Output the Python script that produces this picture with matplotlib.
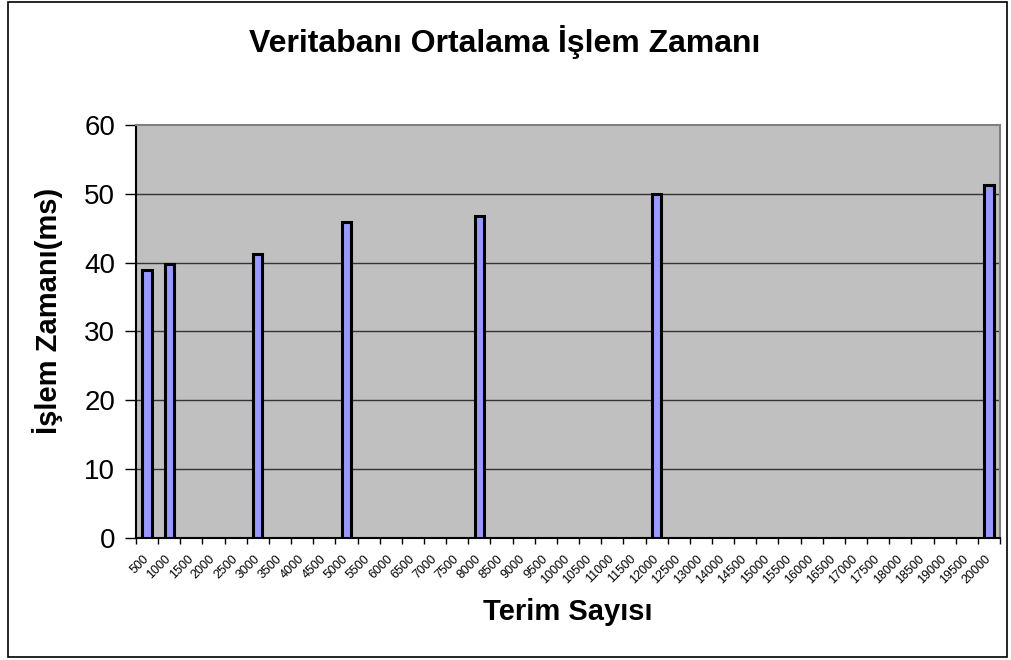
import matplotlib
matplotlib.use("Agg")
import matplotlib.pyplot as plt
from matplotlib.patches import Rectangle
import numpy as np

plt.rcParams['font.family'] = ['Liberation Sans', 'DejaVu Sans']

categories = ["500", "1000", "1500", "2000", "2500", "3000", "3500", "4000", "4500",
              "5000", "5500", "6000", "6500", "7000", "7500", "8000", "8500", "9000",
              "9500", "10000", "10500", "11000", "11500", "12000", "12500", "13000",
              "14000", "14500", "15000", "15500", "16000", "16500", "17000", "17500",
              "18000", "18500", "19000", "19500", "20000"]
measured = {"500": 38.9, "1000": 39.8, "3000": 41.2, "5000": 45.9,
            "8000": 46.7, "12000": 50.0, "20000": 51.3}
values = [measured.get(c, 0) for c in categories]

title = "Veritabanı Ortalama İşlem Zamanı"
ylabel = "İşlem Zamanı(ms)"
xlabel = "Terim Sayısı"
yticks = [0, 10, 20, 30, 40, 50, 60]

fig = plt.figure(figsize=(10.12, 6.6), dpi=100)
fig.patch.set_facecolor('white')
fig.add_artist(Rectangle((8/1012, 3/660), 999/1012, 655/660, transform=fig.transFigure,
                         fill=False, edgecolor='black', linewidth=1.2))

ax = fig.add_axes([136/1012, (660-537.7)/660, 864/1012, (537.7-125)/660])
ax.set_facecolor('#C0C0C0')

x = np.arange(len(categories))
mask = [v > 0 for v in values]
ax.bar(x[mask], np.array(values)[mask], width=0.42, color='#9999FF',
       edgecolor='black', linewidth=2.2, zorder=3)

ax.set_xlim(-0.5, len(categories) - 0.5)
ax.set_ylim(0, 60)
ax.set_yticks(yticks)
ax.set_yticklabels([str(t) for t in yticks], fontsize=20)
for t in yticks[1:-1]:
    ax.axhline(t, color='#333333', linewidth=1.0, zorder=1)

ax.set_xticks(np.arange(len(categories) + 1) - 0.5)
ax.set_xticklabels([])
ax.set_xticks(x - 0.2, minor=True)
ax.set_xticklabels(categories, minor=True, rotation=45, ha='right', va='top',
                   rotation_mode='anchor', fontsize=9)
ax.tick_params(axis='x', which='minor', length=0, pad=11)
ax.tick_params(axis='x', which='major', length=4, width=1, color='black', direction='out')
ax.tick_params(axis='y', length=8, width=1, color='black', direction='out', pad=7)

ax.spines['left'].set_color('black')
ax.spines['bottom'].set_color('black')
ax.spines['top'].set_color('#808080')
ax.spines['right'].set_color('#808080')
for s in ax.spines.values():
    s.set_linewidth(1.5)

fig.text(505/1012, 1 - 42/660, title, ha='center', va='center', fontsize=23, fontweight='bold')
fig.text(568/1012, 1 - 612/660, xlabel, ha='center', va='center', fontsize=21, fontweight='bold')
fig.text(48/1012, 1 - 311/660, ylabel, ha='center', va='center', rotation=90,
         fontsize=21, fontweight='bold')

fig.savefig("out.png", dpi=100)
